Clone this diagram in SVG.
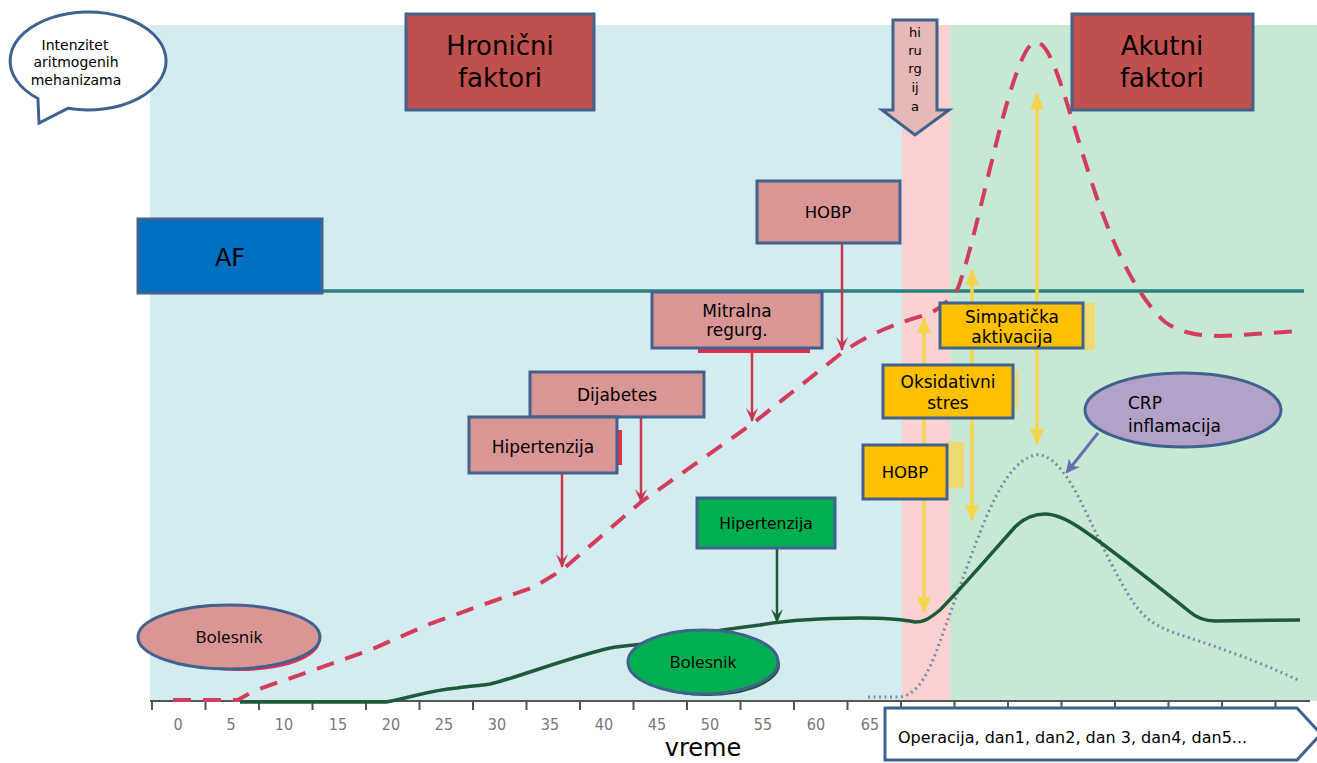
<svg xmlns="http://www.w3.org/2000/svg" width="1317" height="763" viewBox="0 0 1317 763">
<defs>
<style>
.box{stroke:#41628f;stroke-width:3}
.t{font-family:"DejaVu Sans","Liberation Sans",sans-serif;fill:#000;text-anchor:middle}
.tb{font-family:"Open Sans","Noto Sans",sans-serif;fill:#000;text-anchor:middle}
.ax{font-family:"Liberation Sans Narrow","DejaVu Sans Condensed","Liberation Sans",sans-serif;fill:#777;font-size:16px;text-anchor:middle}
.red{stroke:#c9364f;stroke-width:2.5;fill:none}
.yel{stroke:#f6d54e;stroke-width:3.5;fill:none}
</style>
<marker id="ar" viewBox="0 0 14 12" refX="13" refY="6" markerWidth="14" markerHeight="12" markerUnits="userSpaceOnUse" orient="auto">
<path d="M0,0 L14,6 L0,12 L6,6 Z" fill="#c9364f"/>
</marker>
<marker id="ag" viewBox="0 0 14 12" refX="13" refY="6" markerWidth="14" markerHeight="12" markerUnits="userSpaceOnUse" orient="auto">
<path d="M0,0 L14,6 L0,12 L6,6 Z" fill="#1d5a3a"/>
</marker>
<marker id="ay" viewBox="0 0 16 14" refX="15" refY="7" markerWidth="16" markerHeight="14" markerUnits="userSpaceOnUse" orient="auto-start-reverse">
<path d="M0,0 L16,7 L0,14 Z" fill="#f6d54e"/>
</marker>
<marker id="ap" viewBox="0 0 14 14" refX="12" refY="7" markerWidth="14" markerHeight="14" markerUnits="userSpaceOnUse" orient="auto">
<path d="M0,0 L14,7 L0,14 L4,7 Z" fill="#6a6fb0"/>
</marker>
</defs>

<rect x="0" y="0" width="1317" height="763" fill="#ffffff"/>
<g id="background">
<rect x="150" y="25" width="752" height="676" fill="#d4ecf0"/>
<rect x="902" y="25" width="48" height="676" fill="#fbd1d1"/>
<rect x="950" y="25" width="367" height="676" fill="#c7e9d4"/>
</g>

<g id="axis">
<line x1="150" y1="701" x2="1310" y2="701" stroke="#555" stroke-width="2"/>
<path d="M152 701v9M205.5 701v9M259 701v9M312.5 701v9M366 701v9M419.5 701v9M473 701v9M526.5 701v9M580 701v9M633.5 701v9M687 701v9M740.5 701v9M794 701v9M847.5 701v9M901 701v9M954.5 701v9M1008 701v9M1061.5 701v9M1115 701v9M1168.5 701v9M1222 701v9M1275.5 701v9" stroke="#555" stroke-width="2"/>
<text class="ax" x="178" y="730">0</text>
<text class="ax" x="231" y="730">5</text>
<text class="ax" x="284" y="730">10</text>
<text class="ax" x="338" y="730">15</text>
<text class="ax" x="391" y="730">20</text>
<text class="ax" x="444" y="730">25</text>
<text class="ax" x="497" y="730">30</text>
<text class="ax" x="550" y="730">35</text>
<text class="ax" x="604" y="730">40</text>
<text class="ax" x="657" y="730">45</text>
<text class="ax" x="710" y="730">50</text>
<text class="ax" x="763" y="730">55</text>
<text class="ax" x="816" y="730">60</text>
<text class="ax" x="870" y="730">65</text>
<text class="t" x="703" y="756" font-size="24">vreme</text>
</g>

<line id="af-line" x1="175" y1="291" x2="1304" y2="291" stroke="#27817f" stroke-width="3.5"/>

<g id="curves">
<path d="M868 697 L900 697 C915 695 925 680 935 655 C950 615 965 570 985 520 C1000 485 1015 460 1035 455 C1050 453 1065 470 1080 500 C1095 530 1115 575 1135 605 C1150 625 1165 630 1190 638 C1220 648 1260 662 1298 680" fill="none" stroke="#7f8aab" stroke-width="3" stroke-dasharray="2 3.5"/>
<path d="M240 702 L386 702 C410 698 430 690 457 688 C470 686 480 686 490 684 C520 677 560 660 610 648 C625 645 635 645 645 644 C680 636 720 630 760 625 C790 620 830 618 860 618 C880 618 900 619 915 622 C925 622 930 618 940 610 C960 590 990 555 1015 527 C1025 517 1035 514 1045 514 C1055 514 1065 518 1080 528 C1110 548 1150 580 1190 612 C1198 619 1205 621 1215 621 L1300 620" fill="none" stroke="#1d5a3a" stroke-width="3.5"/>
<path d="M173 700 L238 700 Q246 695 256 690 L314 670 L370 650 L432 623 L488 603 L534 587 L562 570 L641 502 L752 424 L843 352 C870 333 900 322 925 315 C940 310 950 300 958 288 C980 230 1012 42 1036 42 C1052 42 1065 100 1090 177 C1110 240 1135 295 1165 322 C1185 337 1215 337 1240 335 L1300 331" fill="none" stroke="#d23c5d" stroke-width="4" stroke-dasharray="18 12"/>
</g>

<g id="connectors">
<line class="yel" x1="924" y1="318" x2="924" y2="612" marker-start="url(#ay)" marker-end="url(#ay)"/>
<line class="yel" x1="972" y1="270" x2="972" y2="520" marker-start="url(#ay)" marker-end="url(#ay)"/>
<line class="yel" x1="1037" y1="94" x2="1037" y2="444" marker-start="url(#ay)" marker-end="url(#ay)"/>
<rect x="1083" y="303" width="12" height="47" fill="#f8d65a" opacity="0.8"/>
<rect x="946" y="442" width="18" height="46" fill="#f8d65a" opacity="0.8"/>
<rect x="1013" y="370" width="6" height="40" fill="#f8d65a" opacity="0.6"/>
<line class="red" x1="842" y1="243" x2="842" y2="350" marker-end="url(#ar)"/>
<line class="red" x1="752" y1="352" x2="752" y2="421" marker-end="url(#ar)"/>
<line class="red" x1="641" y1="417" x2="641" y2="502" marker-end="url(#ar)"/>
<line class="red" x1="562" y1="473" x2="562" y2="567" marker-end="url(#ar)"/>
<line x1="777" y1="548" x2="777" y2="622" stroke="#1d5a3a" stroke-width="2.5" marker-end="url(#ag)"/>
<line x1="1098" y1="433" x2="1067" y2="472" stroke="#6a6fb0" stroke-width="3" marker-end="url(#ap)"/>
</g>

<g id="bubble">
<path d="M67.8 108.3 A78 49 0 1 0 37.9 98.5 L39 123 Z" fill="#fff" stroke="#41628f" stroke-width="3"/>
<text class="t" font-size="14" x="75" y="50">Intenzitet</text>
<text class="t" font-size="14" x="76" y="67">aritmogenih</text>
<text class="t" font-size="14" x="76" y="85">mehanizama</text>
</g>

<g id="hronicni">
<rect class="box" x="406" y="14" width="188" height="96" fill="#c0504d"/>
<text class="t" font-size="26" x="500" y="55">Hronični</text>
<text class="t" font-size="26" x="500" y="87">faktori</text>
</g>

<g id="akutni">
<rect class="box" x="1072" y="14" width="181" height="96" fill="#c0504d"/>
<text class="t" font-size="26" x="1162" y="55">Akutni</text>
<text class="t" font-size="26" x="1162" y="87">faktori</text>
</g>

<g id="hirurgija">
<path d="M893 20 L937 20 L937 110 L949 110 L915 135 L882 110 L893 110 Z" fill="#e6b8b7" stroke="#41628f" stroke-width="3"/>
<text class="t" font-size="13" x="915" y="37">hi</text>
<text class="t" font-size="13" x="915" y="55">ru</text>
<text class="t" font-size="13" x="915" y="73">rg</text>
<text class="t" font-size="13" x="915" y="92">ij</text>
<text class="t" font-size="13" x="915" y="111">a</text>
</g>

<g id="af">
<rect class="box" x="138" y="219" width="184" height="74" fill="#0070c0"/>
<text class="t" font-size="24" x="230" y="266">AF</text>
</g>

<g id="hobp-chronic">
<rect class="box" x="757" y="181" width="143" height="62" fill="#d99694"/>
<text class="t" font-size="16.5" x="828" y="218">HOBP</text>
</g>

<g id="mitralna">
<rect x="698" y="347" width="112" height="6" fill="#e0304a"/>
<rect class="box" x="652" y="292" width="170" height="56" fill="#d99694"/>
<text class="t" font-size="17" x="737" y="317">Mitralna</text>
<text class="t" font-size="17" x="737" y="336">regurg.</text>
</g>

<g id="dijabetes">
<rect class="box" x="530" y="372" width="174" height="45" fill="#d99694"/>
<text class="t" font-size="17" x="617" y="401">Dijabetes</text>
</g>

<g id="hipertenzija-chronic">
<rect x="616" y="430" width="6" height="35" fill="#e0304a"/>
<rect class="box" x="469" y="417" width="148" height="56" fill="#d99694"/>
<text class="t" font-size="17" x="543" y="453">Hipertenzija</text>
</g>

<g id="hipertenzija-green">
<rect class="box" x="697" y="498" width="138" height="50" fill="#00b050"/>
<text class="t" font-size="15.5" x="766" y="529">Hipertenzija</text>
</g>

<g id="bolesnik-pink">
<ellipse cx="240" cy="641" rx="80" ry="30" fill="#e8304a"/>
<ellipse cx="229" cy="637" rx="91" ry="32" fill="#d99694" stroke="#41628f" stroke-width="3"/>
<text class="tb" font-size="17" x="229" y="643">Bolesnik</text>
</g>

<g id="bolesnik-green">
<ellipse cx="707" cy="665" rx="73" ry="31" fill="#145a30"/>
<ellipse cx="703" cy="662" rx="75" ry="32" fill="#00b050" stroke="#41628f" stroke-width="3"/>
<text class="tb" font-size="17" x="703" y="668">Bolesnik</text>
</g>

<g id="simpaticka">
<rect class="box" x="940" y="303" width="143" height="45" fill="#ffc000"/>
<text class="t" font-size="17" x="1012" y="323">Simpatička</text>
<text class="t" font-size="17" x="1012" y="343">aktivacija</text>
</g>

<g id="oksidativni">
<rect class="box" x="883" y="365" width="130" height="53" fill="#ffc000"/>
<text class="t" font-size="17" x="948" y="388">Oksidativni</text>
<text class="t" font-size="17" x="948" y="409">stres</text>
</g>

<g id="hobp-acute">
<rect class="box" x="863" y="445" width="84" height="54" fill="#ffc000"/>
<text class="t" font-size="16.5" x="905" y="478">HOBP</text>
</g>

<g id="crp">
<ellipse cx="1183" cy="410" rx="98" ry="37" fill="#b3a2c7" stroke="#41628f" stroke-width="3"/>
<text class="t" font-size="17" x="1128" y="409" style="text-anchor:start">CRP</text>
<text class="t" font-size="17" x="1128" y="432" style="text-anchor:start">inflamacija</text>
</g>

<g id="operacija">
<path d="M885 708 L1297 708 L1321 734 L1297 760 L885 760 Z" fill="#fff" stroke="#41628f" stroke-width="3"/>
<text class="t" font-size="16" x="898" y="743" style="text-anchor:start">Operacija, dan1, dan2, dan 3, dan4, dan5...</text>
</g>
</svg>
